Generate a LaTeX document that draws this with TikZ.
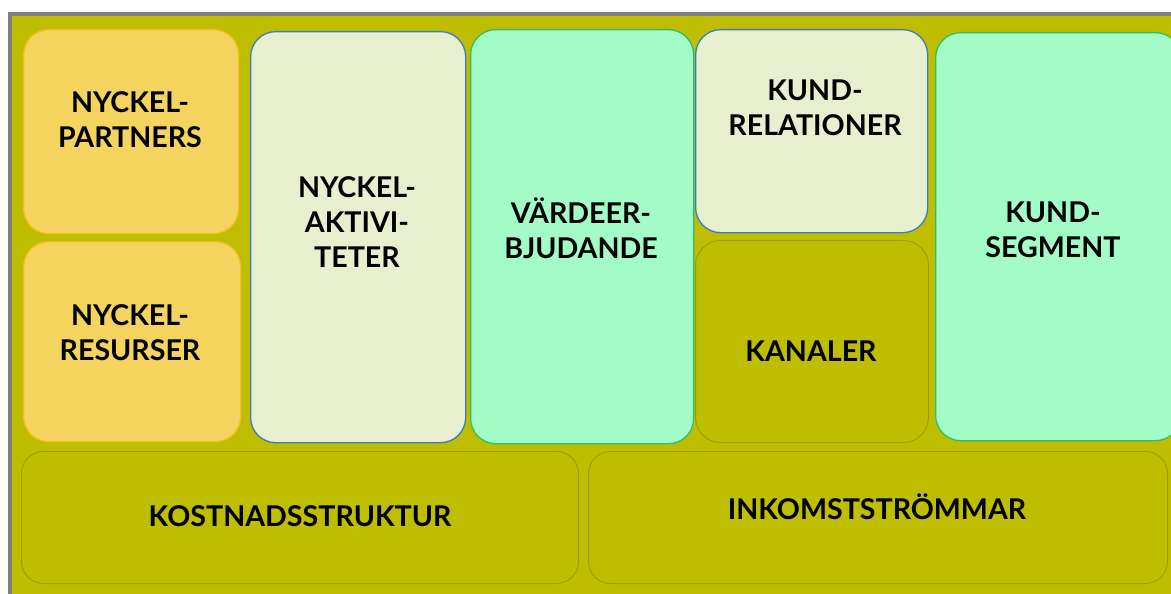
\documentclass[tikz,border=0pt]{standalone}
\usepackage{fontspec}
\setmainfont{Lato}
\definecolor{olive}{HTML}{BFBD00}
\definecolor{oliveline}{HTML}{9E9C00}
\definecolor{partnerfill}{HTML}{F4D35E}
\definecolor{partnerline}{HTML}{F2BE22}
\definecolor{beige}{HTML}{E8EFCF}
\definecolor{beigeline}{HTML}{3B7DC4}
\definecolor{mint}{HTML}{A3FCC5}
\definecolor{mintline}{HTML}{2DBE6C}
\definecolor{frame}{HTML}{808080}
\tikzset{
  block/.style={draw, rounded corners=25pt, line width=1.3pt, inner sep=0pt, anchor=north west},
  yellowblock/.style={block, fill=partnerfill, draw=partnerline},
  beigeblock/.style={block, fill=beige, draw=beigeline},
  mintblock/.style={block, fill=mint, draw=mintline},
  oliveblock/.style={block, fill=olive, draw=oliveline, line width=1pt},
  caption/.style={font=\fontsize{28.6}{35}\selectfont\bfseries, align=center, inner sep=0pt}
}
\begin{document}
\begin{tikzpicture}[x=1pt, y=-1pt]
\useasboundingbox (0,0) rectangle (1171,594);
\fill[white] (0,0) rectangle (1171,594);
\fill[olive] (10,14) rectangle (1175,600);
\draw[frame, line width=4pt] (10,600) -- (10,14) -- (1175,14);
% blocks
\node[yellowblock, minimum width=215pt, minimum height=204pt] (partners) at (23,29) {};
\node[yellowblock, minimum width=217pt, minimum height=200pt] (resurser) at (23,241) {};
\node[beigeblock, minimum width=215pt, minimum height=411pt] (aktiviteter) at (250,31) {};
\node[mintblock, minimum width=223pt, minimum height=414pt] (varde) at (470,29) {};
\node[beigeblock, minimum width=232pt, minimum height=203pt] (relationer) at (695,29) {};
\node[oliveblock, minimum width=233pt, minimum height=202pt] (kanaler) at (695,240) {};
\node[mintblock, minimum width=245pt, minimum height=408pt] (segment) at (935,32) {};
\node[oliveblock, minimum width=557pt, minimum height=132pt, rounded corners=22pt] (kostnad) at (21,451) {};
\node[oliveblock, minimum width=579pt, minimum height=132pt, rounded corners=22pt] (inkomst) at (588,451) {};
% texts
\node[caption] (partnerstext) at (130,120) {NYCKEL-\\PARTNERS};
\node[caption] (resursertext) at (130,333) {NYCKEL-\\RESURSER};
\node[caption] (aktivitetertext) at (357,222) {NYCKEL-\\AKTIVI-\\TETER};
\node[caption] (vardetext) at (581,228) {VÄRDEER-\\BJUDANDE};
\node[caption] (relationertext) at (815,108) {KUND-\\RELATIONER};
\node[caption] (kanalertext) at (811,351) {KANALER};
\node[caption] (segmenttext) at (1053,230) {KUND-\\SEGMENT};
\node[caption] (kostnadtext) at (300,516) {KOSTNADSSTRUKTUR};
\node[caption] (inkomsttext) at (877,507) {INKOMSTSTRÖMMAR};
\end{tikzpicture}
\end{document}
